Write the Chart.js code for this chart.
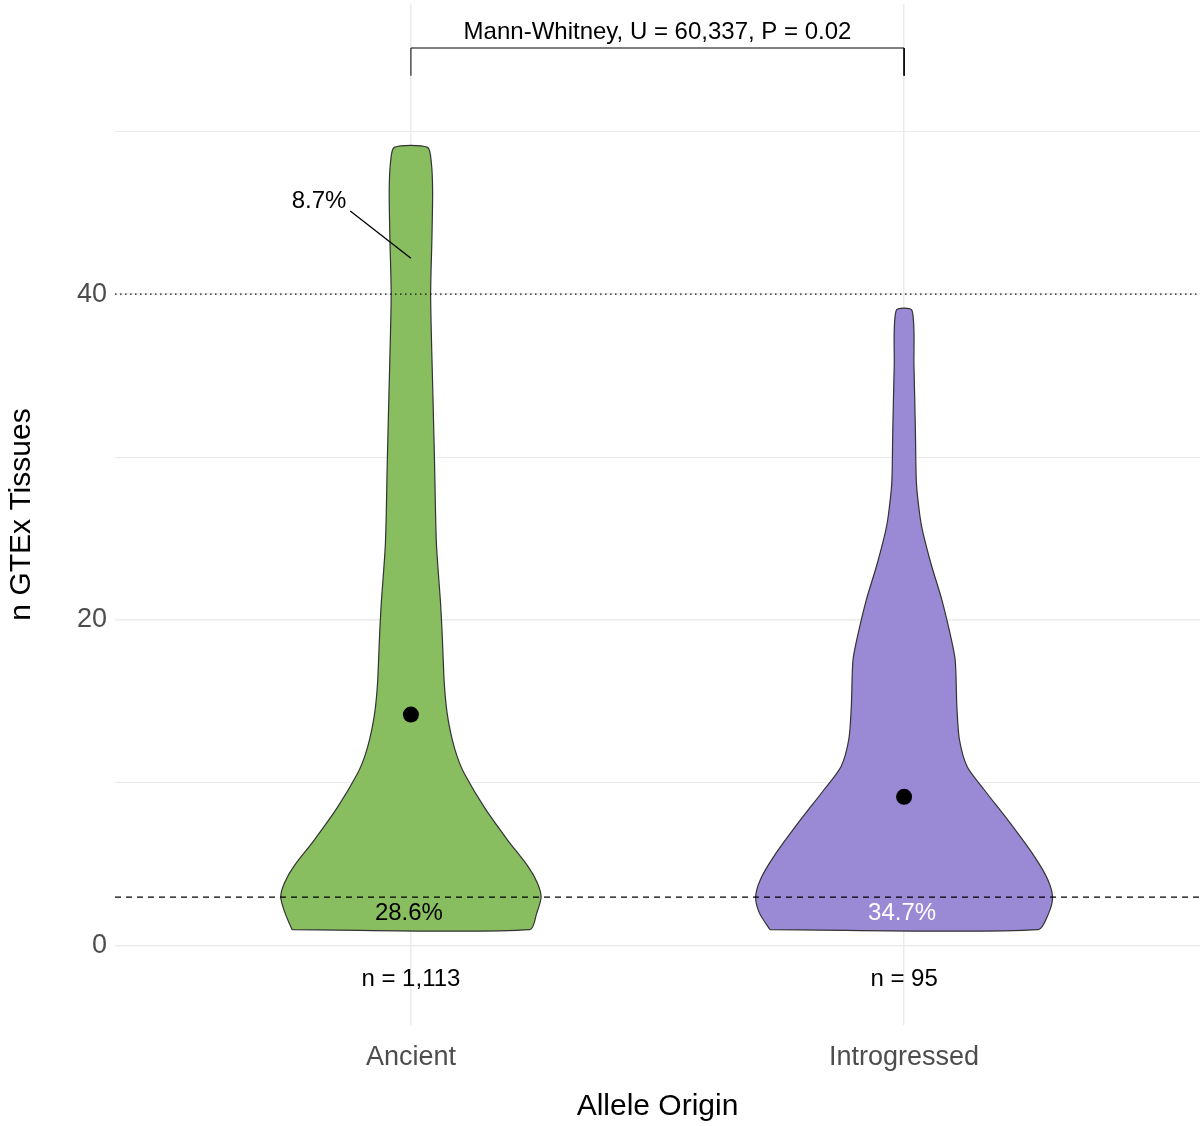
<!DOCTYPE html>
<html>
<head>
<meta charset="utf-8">
<script src="https://cdn.jsdelivr.net/npm/chart.js@4.4.1/dist/chart.umd.min.js"></script>
<style>
  html, body { margin: 0; padding: 0; background: #fff; }
  canvas { display: block; }
</style>
</head>
<body>
<canvas id="violin-chart" width="1202" height="1126"></canvas>
<script>
// categories on the x axis
var categories = ['Ancient', 'Introgressed'];

// violin outline: y values and half widths (in category units)
var ancientY = [1, 2, 3, 3.9, 4.9, 6.5, 8.5, 10.6, 11.6, 12.7, 14.3, 16.2, 18.8, 20.9, 24.7, 29.7, 33.8, 39.9, 43.4, 46.3, 48, 49];
var ancientHalfWidth = [0.241, 0.255, 0.264, 0.256, 0.237, 0.196, 0.149, 0.108, 0.094, 0.0835, 0.0734, 0.0675, 0.0639, 0.0604, 0.0517, 0.0479, 0.0446, 0.040, 0.0426, 0.044, 0.0416, 0.0337];

var introY = [1, 2, 3, 4.1, 5.5, 7.5, 9.6, 11, 12.7, 14.7, 16.8, 17.7, 19.2, 21.3, 23.3, 25.4, 26.4, 28.4, 31.5, 35.6, 39];
var introHalfWidth = [0.272, 0.293, 0.301, 0.291, 0.264, 0.216, 0.162, 0.128, 0.112, 0.107, 0.105, 0.103, 0.093, 0.076, 0.056, 0.038, 0.032, 0.025, 0.023, 0.020, 0.016];

// means, labels
var means = [14.2, 9.15];
var pctLabels = ['28.6%', '34.7%'];
var nLabels = ['n = 1,113', 'n = 95'];
var tailLabel = '8.7%';
var testLabel = 'Mann-Whitney, U = 60,337, P = 0.02';

// reference lines
var dashedY = 3;
var dottedY = 40;
var bracketY = [53.4, 55.1];

var yTicks = [0, 10, 20, 30, 40, 50];

function violinPoints(pos, ys, hw) {
    var pts = [];
    for (var i = 0; i < ys.length; i++) pts.push({x: pos - hw[i], y: ys[i]});
    for (var j = ys.length - 1; j >= 0; j--) pts.push({x: pos + hw[j], y: ys[j]});
    pts.push({x: pos - hw[0], y: ys[0]});
    return pts;
}

var fontFamily = "'Liberation Sans', Arial, Helvetica, sans-serif";
Chart.defaults.font.family = fontFamily;

// texts drawn on top of the plot
var textPlugin = {
    id: 'texts',
    afterDraw: function (chart) {
        var c = chart.ctx, xs = chart.scales.x, ys = chart.scales.y;
        c.save();
        c.font = '24px ' + fontFamily;
        c.textAlign = 'center';
        c.textBaseline = 'middle';
        c.fillStyle = '#000';
        c.fillText(testLabel, xs.getPixelForValue(1.5), ys.getPixelForValue(56.07));
        c.fillText(tailLabel, xs.getPixelForValue(0.8136), ys.getPixelForValue(45.7));
        c.fillText(pctLabels[0], xs.getPixelForValue(0.996), ys.getPixelForValue(2.0));
        c.fillStyle = '#fff';
        c.fillText(pctLabels[1], xs.getPixelForValue(1.996), ys.getPixelForValue(2.0));
        c.fillStyle = '#000';
        c.fillText(nLabels[0], xs.getPixelForValue(1), ys.getPixelForValue(-2.05));
        c.fillText(nLabels[1], xs.getPixelForValue(2), ys.getPixelForValue(-2.05));
        c.restore();
    }
};

var ctx = document.getElementById('violin-chart').getContext('2d');
var chart = new Chart(ctx, {
    type: 'line',
    data: {
        datasets: [
            {   // Ancient violin
                data: violinPoints(1, ancientY, ancientHalfWidth),
                backgroundColor: '#88be5f',
                borderColor: '#333333',
                borderWidth: 1.2,
                fill: 'shape',
                tension: 0.25,
                pointRadius: 0,
                order: 4
            },
            {   // Introgressed violin
                data: violinPoints(2, introY, introHalfWidth),
                backgroundColor: '#9a89d5',
                borderColor: '#333333',
                borderWidth: 1.2,
                fill: 'shape',
                tension: 0.25,
                pointRadius: 0,
                order: 4
            },
            {   // dashed line
                data: [{x: 0.4, y: dashedY}, {x: 2.6, y: dashedY}],
                borderColor: '#000',
                borderWidth: 1.2,
                borderDash: [6, 5],
                pointRadius: 0,
                fill: false,
                order: 2
            },
            {   // dotted line
                data: [{x: 0.4, y: dottedY}, {x: 2.6, y: dottedY}],
                borderColor: '#111',
                borderWidth: 1.4,
                borderDash: [1.5, 3.5],
                pointRadius: 0,
                fill: false,
                order: 2
            },
            {   // means
                data: [{x: 1, y: means[0]}, {x: 2, y: means[1]}],
                showLine: false,
                pointRadius: 8,
                pointBackgroundColor: '#000',
                pointBorderWidth: 0,
                order: 1
            },
            {   // leader for 8.7%
                data: [{x: 0.877, y: 45.1}, {x: 1.0, y: 42.2}],
                borderColor: '#000',
                borderWidth: 1.3,
                pointRadius: 0,
                fill: false,
                order: 0
            },
            {   // bracket
                data: [{x: 1, y: bracketY[0]}, {x: 1, y: bracketY[1]}, {x: 2, y: bracketY[1]}, {x: 2, y: bracketY[0]}],
                borderColor: '#000',
                borderWidth: 1,
                pointRadius: 0,
                fill: false,
                order: 0
            }
        ]
    },
    options: {
        responsive: false,
        animation: false,
        layout: { autoPadding: false, padding: { left: 0, right: 2, top: 4, bottom: 0 } },
        plugins: {
            legend: { display: false },
            tooltip: { enabled: false }
        },
        scales: {
            x: {
                type: 'linear',
                min: 0.4,
                max: 2.6,
                afterBuildTicks: function (scale) {
                    scale.ticks = [{value: 1}, {value: 2}];
                },
                afterFit: function (scale) {
                    scale.height = 101;
                    scale.paddingLeft = 0;
                    scale.paddingRight = 0;
                },
                ticks: {
                    callback: function (v) { return categories[v - 1]; },
                    font: { size: 27 },
                    color: '#4d4d4d',
                    padding: 16,
                    maxRotation: 0
                },
                grid: { color: '#ebebeb', lineWidth: 1.5, drawTicks: false },
                border: { display: false },
                title: {
                    display: true,
                    text: 'Allele Origin',
                    color: '#000',
                    font: { size: 30, lineHeight: 1.2 },
                    padding: { top: 0, bottom: 1 }
                }
            },
            y: {
                min: -4.85,
                max: 57.8,
                afterBuildTicks: function (scale) {
                    scale.ticks = yTicks.map(function (v) { return {value: v}; });
                },
                afterFit: function (scale) {
                    scale.width = 115;
                    scale.paddingTop = 0;
                    scale.paddingBottom = 0;
                },
                ticks: {
                    callback: function (v) { return v % 20 === 0 ? String(v) : ''; },
                    font: { size: 27 },
                    color: '#4d4d4d',
                    padding: 8
                },
                grid: {
                    color: '#ebebeb',
                    lineWidth: function (c) { return c.tick && c.tick.value % 20 === 0 ? 1.5 : 1.1; },
                    drawTicks: false
                },
                border: { display: false },
                title: {
                    display: true,
                    text: 'n GTEx Tissues',
                    color: '#000',
                    font: { size: 30, lineHeight: 1.2 },
                    padding: { top: 4, bottom: 0 }
                }
            }
        }
    },
    plugins: [textPlugin]
});
</script>
</body>
</html>
